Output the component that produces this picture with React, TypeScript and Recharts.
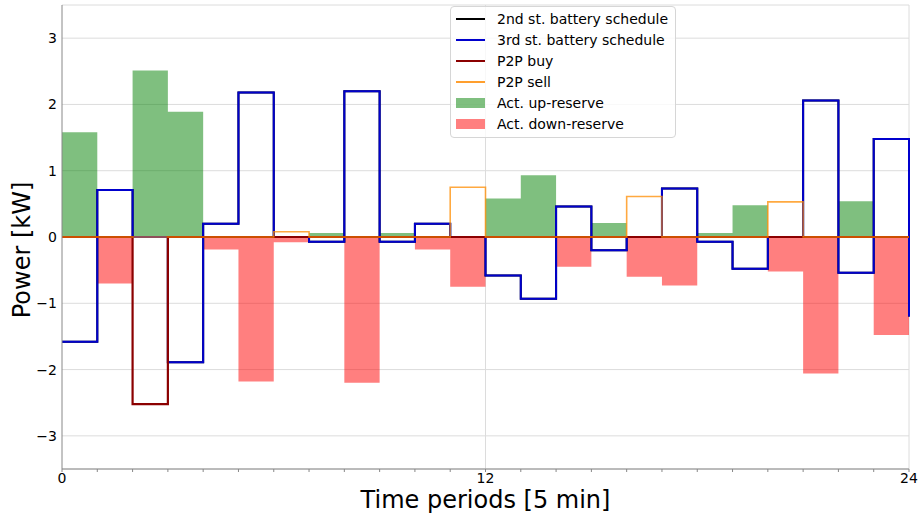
import React from 'react';
import {
  ComposedChart,
  Line,
  Area,
  XAxis,
  YAxis,
  CartesianGrid,
  Label
} from 'recharts';

// 24 five-minute periods, plus the closing point at t = 24
const periods = [0, 1, 2, 3, 4, 5, 6, 7, 8, 9, 10, 11, 12, 13, 14, 15, 16, 17, 18, 19, 20, 21, 22, 23, 24];

const secondStageSchedule = [-1.58, 0.71, 0, -1.89, 0.2, 2.18, 0, -0.07, 2.2, -0.07, 0.2, 0, -0.58, -0.93, 0.46, -0.2, 0, 0.73, -0.07, -0.48, 0, 2.06, -0.54, 1.48, -1.2];
const thirdStageSchedule = [-1.58, 0.71, 0, -1.89, 0.2, 2.18, 0, -0.07, 2.2, -0.07, 0.2, 0, -0.58, -0.93, 0.46, -0.2, 0, 0.73, -0.07, -0.48, 0, 2.06, -0.54, 1.48, -1.2];
const p2pBuy = [0, 0, -2.52, 0, 0, 0, 0, 0, 0, 0, 0, 0, 0, 0, 0, 0, 0, 0, 0, 0, 0, 0, 0, 0, 0];
const p2pSell = [0, 0, 0, 0, 0, 0, 0.08, 0, 0, 0, 0, 0.75, 0, 0, 0, 0, 0.61, 0, 0, 0, 0.53, 0, 0, 0, 0];
const upReserve = [1.58, 0, 2.51, 1.89, 0, 0, 0, 0.06, 0, 0.06, 0, 0, 0.58, 0.93, 0, 0.21, 0, 0, 0.06, 0.48, 0, 0, 0.54, 0, 0];
const downReserve = [0, -0.7, 0, 0, -0.19, -2.18, -0.08, 0, -2.2, 0, -0.19, -0.75, 0, 0, -0.45, 0, -0.6, -0.73, 0, 0, -0.52, -2.06, 0, -1.48, 0];

const xTicks = periods;
const xLabelled = [0, 12, 24];
const xDomain: [number, number] = [0, 24];
const yTicks = [-3, -2, -1, 0, 1, 2, 3];
const xGridAt = [12, 24];

const data = periods.map((t, i) => ({
  t,
  second: secondStageSchedule[i],
  third: thirdStageSchedule[i],
  buy: p2pBuy[i],
  sell: p2pSell[i],
  up: upReserve[i],
  down: downReserve[i]
}));

const FONT = '"DejaVu Sans", sans-serif';

const legendItems = [
  { label: '2nd st. battery schedule', kind: 'line', color: '#000000', width: 2 },
  { label: '3rd st. battery schedule', kind: 'line', color: '#0000cd', width: 2 },
  { label: 'P2P buy', kind: 'line', color: '#8b0000', width: 2 },
  { label: 'P2P sell', kind: 'line', color: '#ff9f2e', width: 2 },
  { label: 'Act. up-reserve', kind: 'patch', color: 'rgba(0,128,0,0.5)' },
  { label: 'Act. down-reserve', kind: 'patch', color: 'rgba(255,0,0,0.5)' }
];

const fmt = (v: number) => String(v).replace('-', '\u2212');

// vertical grid only at the labelled x ticks 12 and 24
const xGridCoords = (props: any) => {
  const s = props?.xAxis?.scale;
  if (typeof s === 'function') return xGridAt.map((v) => s(v));
  if (s && typeof s.map === 'function') return xGridAt.map((v) => s.map(v));
  const off = props?.offset;
  if (!off) return [];
  return xGridAt.map((v) => off.left + ((v - xDomain[0]) / (xDomain[1] - xDomain[0])) * off.width);
};

const App: React.FC = () => {
  return (
    <div style={{ position: 'absolute', left: 0, top: 0, width: 922, height: 517, background: '#fff' }}>
      <ComposedChart
        width={922}
        height={517}
        data={data}
        margin={{ top: 5, right: 13, bottom: 0, left: 0 }}
      >
        <CartesianGrid stroke="#dcdcdc" verticalCoordinatesGenerator={xGridCoords} />
        <XAxis
          dataKey="t"
          type="number"
          domain={xDomain}
          ticks={xTicks}
          interval={0}
          height={48}
          stroke="#888"
          tickSize={3}
          tickMargin={1}
          tick={{ fill: '#000', fontSize: 14, fontFamily: FONT }}
          tickFormatter={(v: number) => (xLabelled.includes(v) ? String(v) : '')}
        >
          <Label
            content={() => (
              <text x={485.5} y={508} textAnchor="middle" fontSize={24} fontFamily={FONT} fill="#000">
                Time periods [5 min]
              </text>
            )}
          />
        </XAxis>
        <YAxis
          type="number"
          domain={[-3.5, 3.5]}
          ticks={yTicks}
          allowDataOverflow
          width={62}
          stroke="#888"
          tickLine={false}
          tickSize={3}
          tickMargin={2}
          tick={{ fill: '#000', fontSize: 14, fontFamily: FONT }}
          tickFormatter={fmt}
        >
          <Label
            content={() => (
              <text
                x={30}
                y={250}
                textAnchor="middle"
                fontSize={24}
                fontFamily={FONT}
                fill="#000"
                transform="rotate(-90, 30, 250)"
              >
                Power [kW]
              </text>
            )}
          />
        </YAxis>

        <Area
          type="stepAfter"
          dataKey="up"
          baseValue={0}
          fill="green"
          fillOpacity={0.5}
          stroke="none"
          isAnimationActive={false}
          dot={false}
          activeDot={false}
        />
        <Area
          type="stepAfter"
          dataKey="down"
          baseValue={0}
          fill="red"
          fillOpacity={0.5}
          stroke="none"
          isAnimationActive={false}
          dot={false}
          activeDot={false}
        />
        <Line type="stepAfter" dataKey="second" stroke="#000000" strokeWidth={2} dot={false} isAnimationActive={false} />
        <Line type="stepAfter" dataKey="third" stroke="#0000cd" strokeWidth={2} dot={false} isAnimationActive={false} />
        <Line type="stepAfter" dataKey="buy" stroke="#8b0000" strokeWidth={2.2} dot={false} isAnimationActive={false} />
        <Line
          type="stepAfter"
          dataKey="sell"
          stroke="#ff8c00"
          strokeOpacity={0.75}
          strokeWidth={1.6}
          dot={false}
          isAnimationActive={false}
        />
      </ComposedChart>

      {/* Legend */}
      <div
        style={{
          position: 'absolute',
          left: 450,
          top: 6,
          width: 224,
          height: 129,
          border: '1px solid #d6d6d6',
          borderRadius: 4,
          background: 'rgba(255,255,255,0.8)',
          fontFamily: FONT,
          fontSize: 14,
          color: '#000',
          paddingTop: 1
        }}
      >
        {legendItems.map((item) => (
          <div key={item.label} style={{ display: 'flex', alignItems: 'center', height: 21 }}>
            <div style={{ width: 29, marginLeft: 5, marginRight: 12, display: 'flex', alignItems: 'center' }}>
              {item.kind === 'line' ? (
                <div style={{ width: 29, height: item.width, background: item.color }} />
              ) : (
                <div style={{ width: 29, height: 10, background: item.color }} />
              )}
            </div>
            <span style={{ whiteSpace: 'nowrap' }}>{item.label}</span>
          </div>
        ))}
      </div>
    </div>
  );
};

export default App;
